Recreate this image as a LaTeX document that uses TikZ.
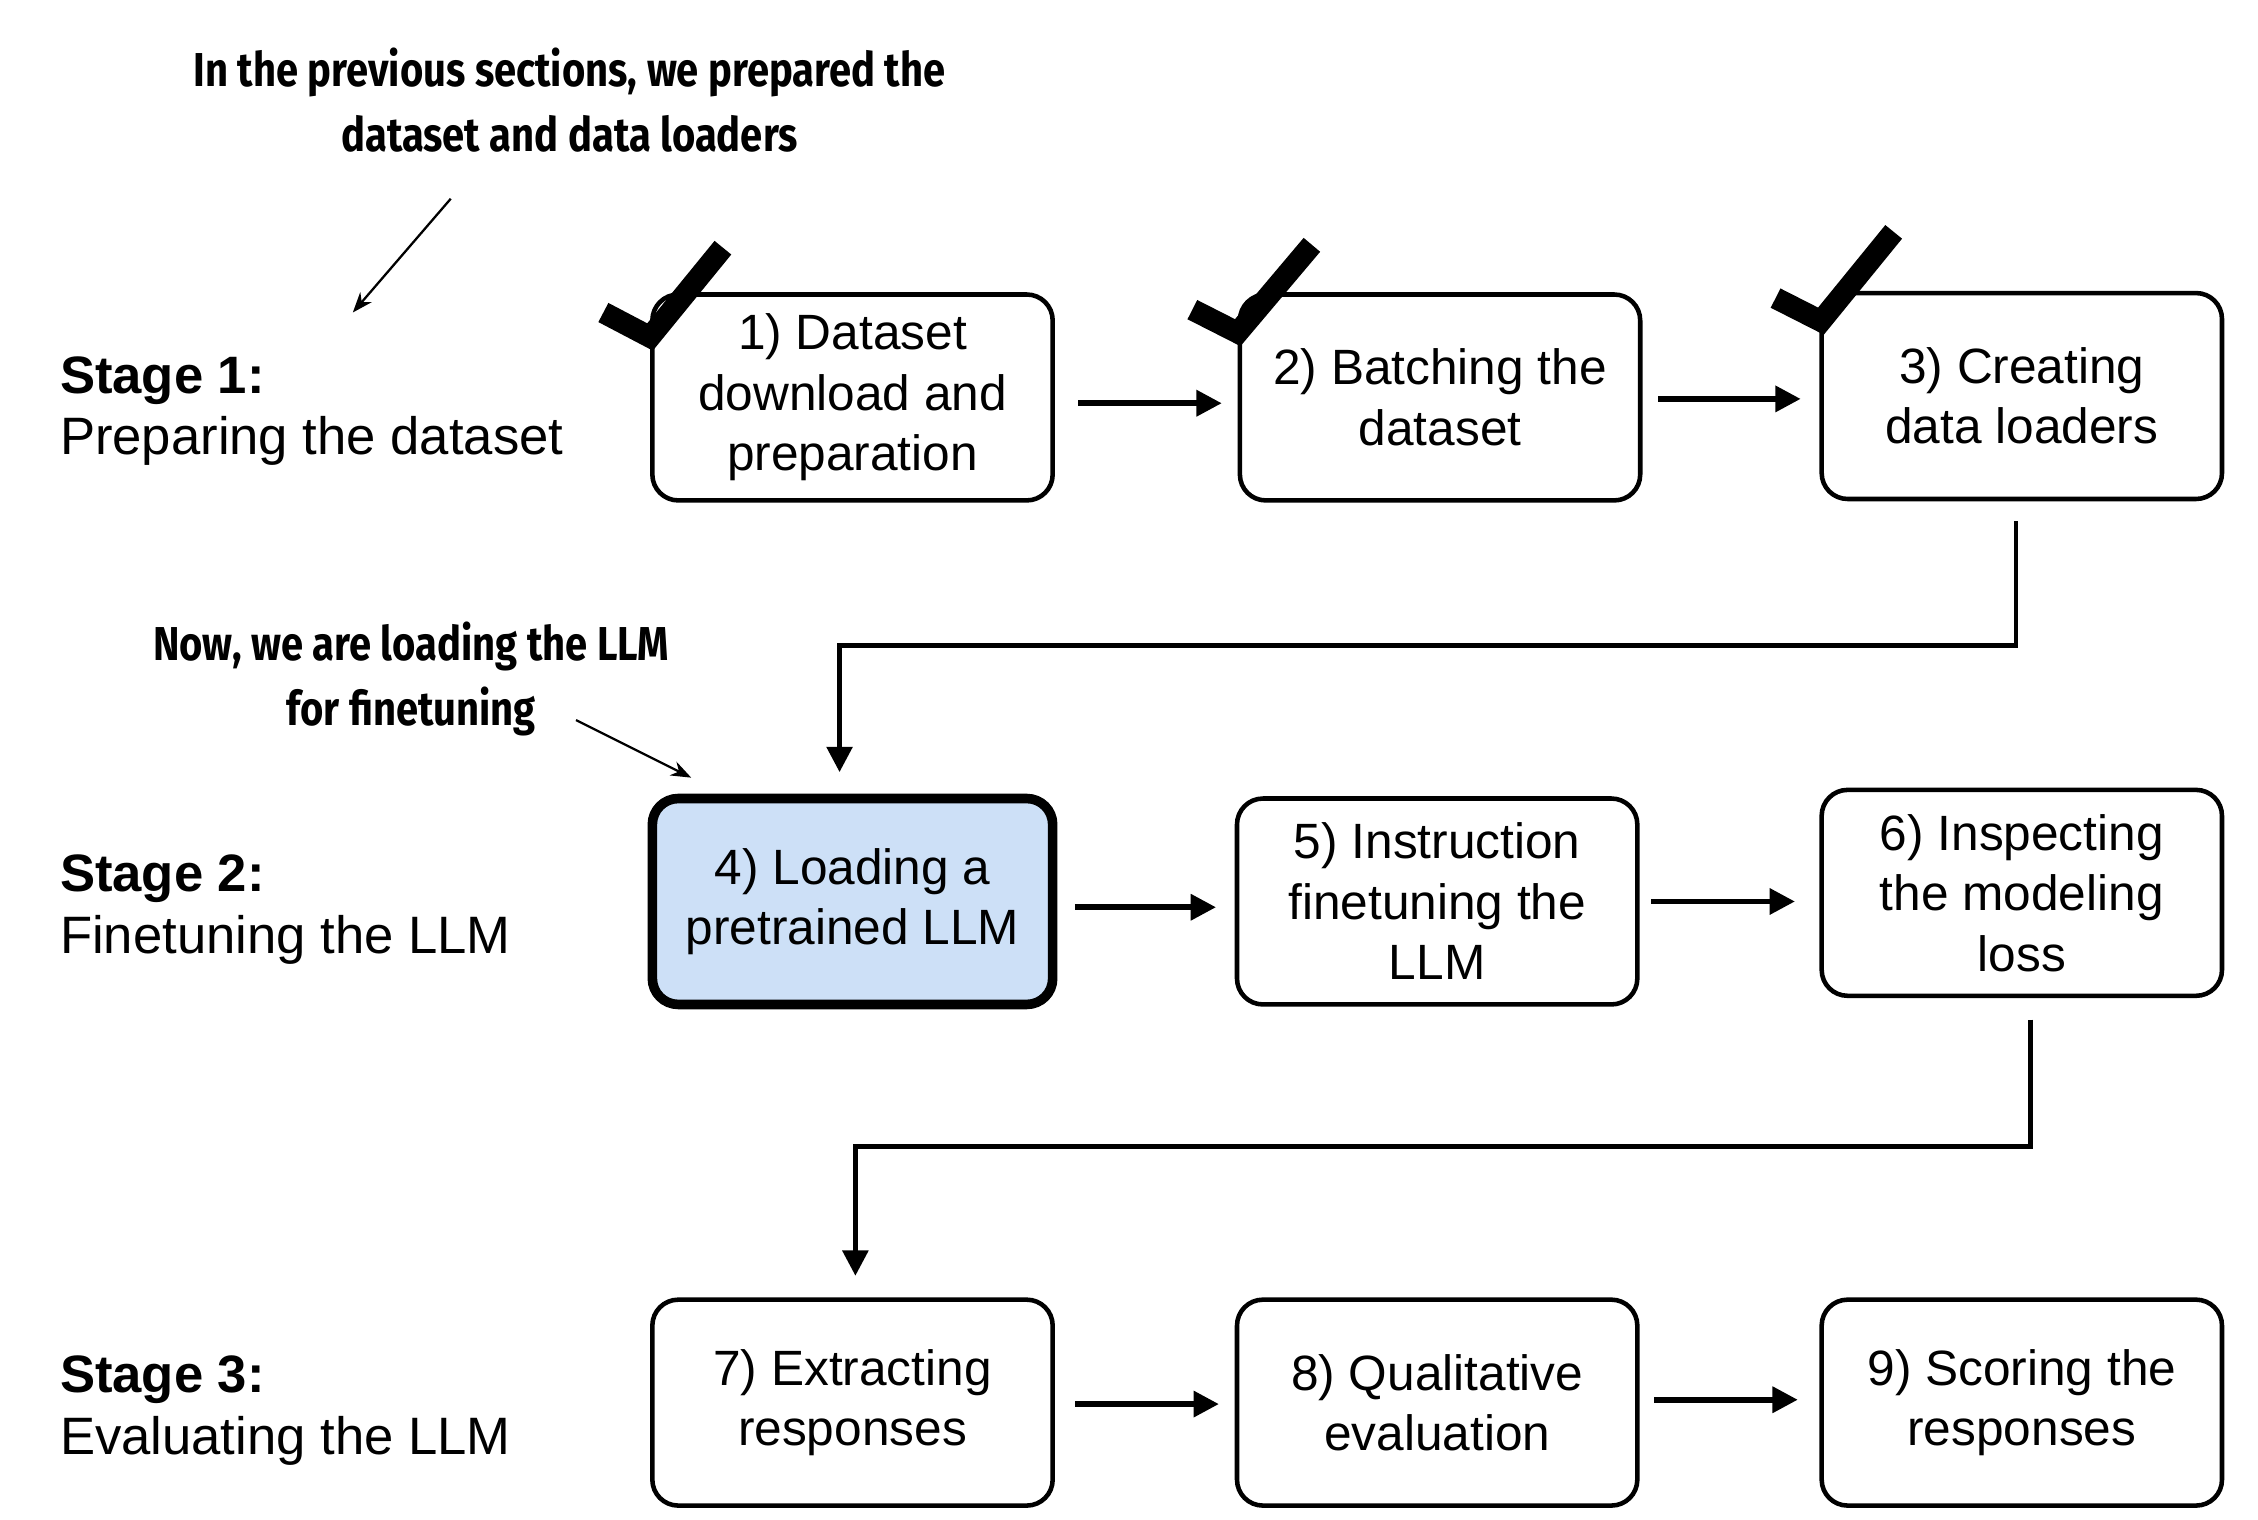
\documentclass[tikz,border=0pt]{standalone}
\usepackage{fontspec}
\setmainfont{Liberation Sans}
\newfontfamily\annfont{Fira Sans}[FakeStretch=0.84]
\usetikzlibrary{arrows.meta,calc}
\definecolor{boxblue}{RGB}{205,224,247}
\tikzset{
  stepbox/.style={draw, line width=0.9pt, rounded corners=1.8mm, minimum width=27.8mm,
    minimum height=14.3mm, align=center, inner sep=0pt,
    font=\fontsize{9.8}{11.95}\selectfont},
  flow/.style={line width=1.1pt, -{Triangle[length=5pt,width=5pt]}},
  elbow/.style={line width=0.95pt, -{Triangle[length=5pt,width=5pt]}},
  note/.style={align=center, inner sep=0pt,
    font=\annfont\bfseries\fontsize{9.4}{12.8}\selectfont},
  noteline/.style={line width=0.45pt, -{Stealth[length=4pt,width=3pt]}},
  stage/.style={anchor=west, align=left, inner sep=0pt,
    font=\fontsize{10.4}{12.2}\selectfont},
  tick/.style={line width=1.5mm, line join=miter, line cap=butt},
}
\begin{document}
\begin{tikzpicture}[x=0.1mm, y=-0.1mm]
\useasboundingbox (0,0) rectangle (1568,1055);

% stage labels
\node[stage] (s1) at (41,285.5) {\textbf{Stage 1:}\\Preparing the dataset};
\node[stage] (s2) at (41,631.5) {\textbf{Stage 2:}\\Finetuning the LLM};
\node[stage] (s3) at (41,979.5) {\textbf{Stage 3:}\\Evaluating the LLM};

% boxes
\node[stepbox] (b1) at (592,276) {1) Dataset\\download and\\preparation};
\node[stepbox] (b2) at (1000,276) {2) Batching the\\dataset};
\node[stepbox] (b3) at (1404,275) {3) Creating\\data loaders};
\node[stepbox, fill=boxblue, line width=1.9pt] (b4) at (592,626) {4) Loading a\\pretrained LLM};
\node[stepbox] (b5) at (998,626) {5) Instruction\\finetuning the\\LLM};
\node[stepbox] (b6) at (1404,620) {6) Inspecting\\the modeling\\loss};
\node[stepbox] (b7) at (592,974) {7) Extracting\\responses};
\node[stepbox] (b8) at (998,974) {8) Qualitative\\evaluation};
\node[stepbox] (b9) at (1404,974) {9) Scoring the\\responses};

% check marks
\draw[tick] (419,217) -- (451.4,234) -- (502,172);
\draw[tick] (828,215) -- (859.5,231) -- (911,170);
\draw[tick] (1233,207) -- (1264.5,223) -- (1315,161);

% horizontal arrows
\draw[flow] ([shift={(16,4)}]b1.east) -- ([shift={(-11,4)}]b2.west);
\draw[flow] ([shift={(11,1)}]b2.east) -- ([shift={(-13,2)}]b3.west);
\draw[flow] ([shift={(12,4)}]b4.east) -- ([shift={(-13,4)}]b5.west);
\draw[flow] ([shift={(8,0)}]b5.east) -- ([shift={(-17,6)}]b6.west);
\draw[flow] ([shift={(14,1)}]b7.east) -- ([shift={(-11,1)}]b8.west);
\draw[flow] ([shift={(10,-2)}]b8.east) -- ([shift={(-15,-2)}]b9.west);

% elbow connectors
\draw[elbow] ([shift={(-4,14)}]b3.south) -- ++(0,86) -| ([shift={(-9,-15)}]b4.north);
\draw[elbow] ([shift={(6,15)}]b6.south) -- ++(0,88) -| ([shift={(2,-15)}]b7.north);

% annotations
\node[note] (n1) at (395.5,69.5) {In the previous sections, we prepared the\\dataset and data loaders};
\node[note] (n2) at (285.5,471.5) {Now, we are loading the LLM\\for finetuning};
\coordinate (n1a) at (313,138);
\coordinate (n1b) at (245,217);
\coordinate (n2a) at (400,500);
\coordinate (n2b) at (480,540);
\draw[noteline] (n1a) -- (n1b);
\draw[noteline] (n2a) -- (n2b);
\end{tikzpicture}
\end{document}
